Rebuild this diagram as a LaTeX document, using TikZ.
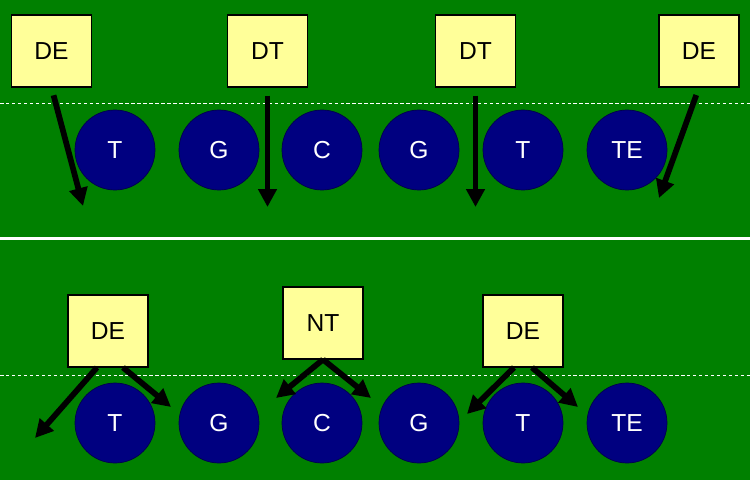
\documentclass[tikz,border=0pt]{standalone}
\usepackage{fontspec}
\setmainfont{Liberation Sans}
\usetikzlibrary{arrows.meta}

\definecolor{field}{HTML}{008000}
\definecolor{jersey}{HTML}{000080}
\definecolor{padyellow}{HTML}{FFFF99}

\begin{document}
\begin{tikzpicture}[x=0.02cm,y=-0.02cm]
      \tikzstyle{lineman}=[circle,draw=jersey!60!black,fill=jersey,text=white,minimum size=1.6cm,inner sep=0pt,font=\fontsize{14}{16}\selectfont]
      \tikzstyle{rusher}=[draw=black,fill=padyellow,line width=0.6pt,minimum width=1.6cm,minimum height=1.44cm,inner sep=0pt,font=\fontsize{14}{16}\selectfont]
      \tikzstyle{rush}=[line width=0.115cm,-{Triangle[length=0.36cm,width=0.36cm]}]
      \tikzstyle{scrimmage}=[white,line width=0.5pt,dash pattern=on 2pt off 1.4pt]

      \useasboundingbox (0,0) rectangle (750,480);
      \fill[field] (0,0) rectangle (750,480);
      \draw[white,line width=0.06cm] (0,238.5) -- (750,238.5);

      % 4-3 front
      \begin{scope}
        \draw[scrimmage] (0,103) -- (750,103);

        \node [lineman] (LT) at (115,150) {T};
        \node [lineman] (LG) at (219,150) {G};
        \node [lineman] (C) at (322,150) {C};
        \node [lineman] (RG) at (419,150) {G};
        \node [lineman] (RT) at (523,150) {T};
        \node [lineman] (TE) at (627,150) {TE};

        \node [rusher] (DE1) at (51.5,51) {DE};
        \node [rusher] (DT1) at (267.5,51) {DT};
        \node [rusher] (DT2) at (475.5,51) {DT};
        \node [rusher] (DE2) at (699,51) {DE};

        \coordinate (DE1gap) at (83,206);
        \coordinate (DT1gap) at (267.5,207);
        \coordinate (DT2gap) at (475.5,207);
        \coordinate (DE2gap) at (659,198);

        \draw [rush,shorten <=0.16cm] (DE1.south) -- (DE1gap);
        \draw [rush,shorten <=0.16cm] (DT1.south) -- (DT1gap);
        \draw [rush,shorten <=0.16cm] (DT2.south) -- (DT2gap);
        \draw [rush,shorten <=0.16cm] (DE2.south) -- (DE2gap);
      \end{scope}

      % 3-4 front
      \begin{scope}
        \draw[scrimmage] (0,375) -- (750,375);

        \node [lineman] (LT2) at (115,423) {T};
        \node [lineman] (LG2) at (219,423) {G};
        \node [lineman] (C2) at (322,423) {C};
        \node [lineman] (RG2) at (419,423) {G};
        \node [lineman] (RT2) at (523,423) {T};
        \node [lineman] (TE2) at (627,423) {TE};

        \node [rusher] (DE3) at (108,331) {DE};
        \node [rusher] (NT) at (323,323) {NT};
        \node [rusher] (DE4) at (523,331) {DE};

        \coordinate (DE3out) at (35,438);
        \coordinate (DE3in) at (171,407);
        \coordinate (NTleft) at (276,398);
        \coordinate (NTright) at (371,398);
        \coordinate (DE4in) at (467,414);
        \coordinate (DE4out) at (578,407);

        \draw [rush] ([xshift=-0.22cm]DE3.south) -- (DE3out);
        \draw [rush] ([xshift=0.3cm]DE3.south) -- (DE3in);
        \draw [rush] (NT.south) -- (NTleft);
        \draw [rush] (NT.south) -- (NTright);
        \draw [rush] ([xshift=-0.18cm]DE4.south) -- (DE4in);
        \draw [rush] ([xshift=0.18cm]DE4.south) -- (DE4out);
      \end{scope}

\end{tikzpicture}
\end{document}
